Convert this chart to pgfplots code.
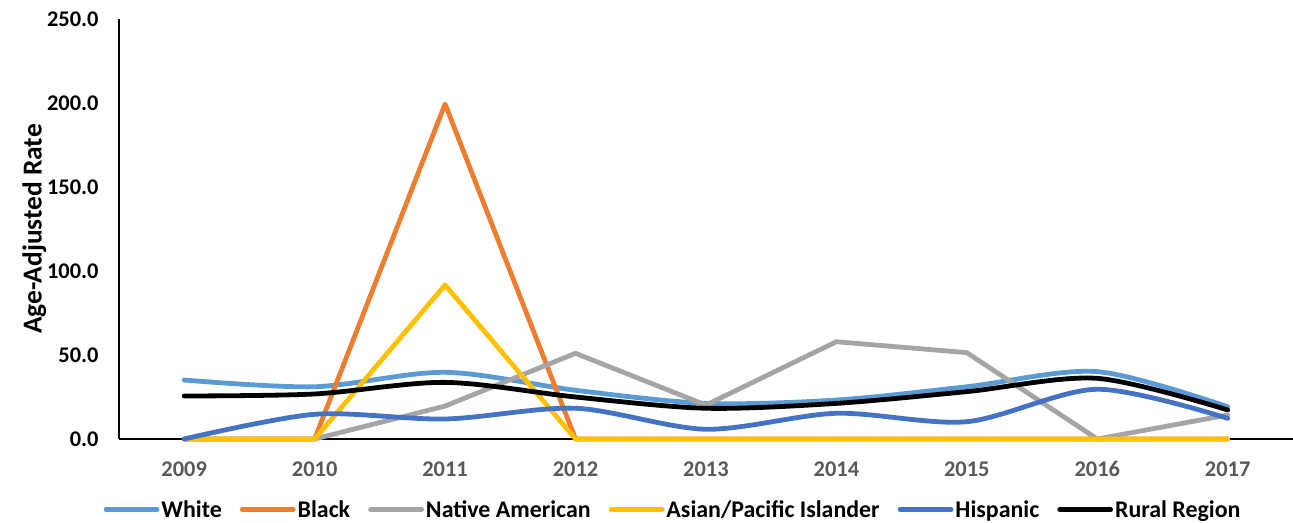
\documentclass[border=0pt]{standalone}
\usepackage{pgfplots}
\pgfplotsset{compat=1.18}
\usepackage{fontspec}
\setmainfont{Carlito}
\definecolor{cWhite}{HTML}{5B9BD5}
\definecolor{cBlack}{HTML}{ED7D31}
\definecolor{cNative}{HTML}{A5A5A5}
\definecolor{cAsian}{HTML}{FFC000}
\definecolor{cHisp}{HTML}{4472C4}
\definecolor{tickgray}{HTML}{595959}
\begin{document}
\begin{tikzpicture}[x=1bp,y=1bp]
\begin{axis}[
  at={(0,0)}, anchor=south west,
  scale only axis, width=1174bp, height=420bp,
  xmin=-0.5, xmax=8.5, ymin=0, ymax=250,
  axis lines*=left,
  axis line style={line width=1.3bp, -},
  xtick={0,...,8},
  xticklabels={2009,2010,2011,2012,2013,2014,2015,2016,2017},
  ytick={0,50,100,150,200,250},
  major tick length=0pt,
  /pgf/number format/fixed,
  /pgf/number format/fixed zerofill,
  /pgf/number format/precision=1,
  /pgf/number format/assume math mode=true,
  ticklabel style={font=\bfseries\fontsize{22.5}{24}\selectfont},
  xticklabel style={yshift=-19bp, text=tickgray},
  yticklabel style={xshift=-17bp, text=black},
  ylabel={Age-Adjusted Rate},
  ylabel style={font=\bfseries\fontsize{27.5}{30}\selectfont, yshift=-6bp},
  every axis plot/.append style={line width=4.8bp, line join=round, line cap=round},
  legend columns=-1,
  legend style={at={(0.472,-0.168)}, anchor=center, draw=none, fill=none,
    font=\bfseries\fontsize{24}{26}\selectfont,
    /tikz/every even column/.append style={column sep=16bp}},
  legend image code/.code={\draw[#1, line width=4.8bp] (2bp,0bp) -- (53bp,0bp);},
  clip=false,
]
\addplot[color=cWhite, smooth, tension=0.5] coordinates {(0,35.1)(1,31.1)(2,39.7)(3,29)(4,21.2)(5,23.2)(6,31.1)(7,40.1)(8,19.2)};
\addlegendentry{White}
\addplot[color=cBlack] coordinates {(0,0)(1,0)(2,199.4)(3,0)(4,0)(5,0)(6,0)(7,0)(8,0)};
\addlegendentry{Black}
\addplot[color=cNative] coordinates {(0,0)(1,0)(2,19.6)(3,51)(4,20.2)(5,57.9)(6,51.4)(7,0)(8,14.3)};
\addlegendentry{Native American}
\addplot[color=cAsian] coordinates {(0,0)(1,0)(2,91.7)(3,0)(4,0)(5,0)(6,0)(7,0)(8,0)};
\addlegendentry{Asian/Pacific Islander}
\addplot[color=cHisp, smooth, tension=0.5] coordinates {(0,0)(1,14.7)(2,11.9)(3,18.3)(4,5.8)(5,15.3)(6,10.3)(7,29.6)(8,12.3)};
\addlegendentry{Hispanic}
\addplot[color=black, smooth, tension=0.5] coordinates {(0,25.6)(1,26.8)(2,33.7)(3,25)(4,18.3)(5,21.2)(6,28.2)(7,36.1)(8,17.3)};
\addlegendentry{Rural Region}
\end{axis}
\pgfresetboundingbox
\path[use as bounding box] (-119bp,-84bp) rectangle (1174bp,439bp);
\end{tikzpicture}
\end{document}
